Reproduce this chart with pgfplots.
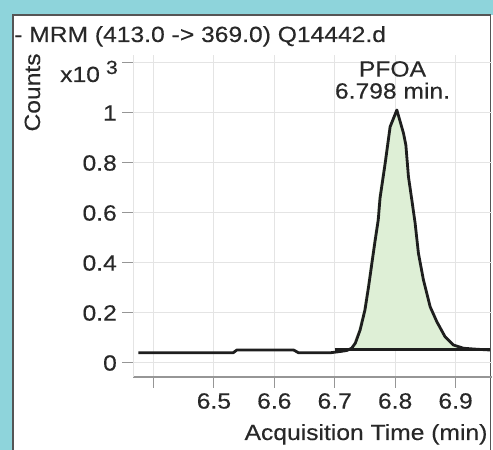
\documentclass[border=0pt]{standalone}
\usepackage{fontspec}
\setmainfont{Liberation Sans}[FakeStretch=1.12, FakeBold=0.3]
\usepackage{pgfplots}
\pgfplotsset{compat=1.18}
\definecolor{teal}{RGB}{142,212,219}
\definecolor{panelborder}{RGB}{85,85,85}
\definecolor{txt}{RGB}{40,40,40}
\definecolor{peakfill}{RGB}{222,239,214}
\definecolor{gridc}{RGB}{228,228,228}
\definecolor{tickc}{RGB}{150,150,150}
\definecolor{linec}{RGB}{30,30,30}
\begin{document}
\begin{tikzpicture}[x=1bp,y=1bp]
\useasboundingbox (0,0) rectangle (493,450);
\fill[teal] (0,0) rectangle (493,450);
\fill[white] (13,0) rectangle (493,435);
\draw[panelborder, line width=1.5bp] (13,0) -- (13,435) -- (490.5,435) -- (490.5,0);
\fontsize{22bp}{26bp}\selectfont
\begin{axis}[
  at={(133bp,73bp)}, anchor=south west,
  scale only axis, width=359bp, height=322bp,
  xmin=6.3661, xmax=6.9603, ymin=-0.056, ymax=1.232,
  axis x line*=bottom, axis y line*=left,
  x axis line style={draw=tickc, line width=1.2bp},
  y axis line style={draw=gridc, line width=1bp},
  xtick={6.4,6.5,6.6,6.7,6.8,6.9},
  xticklabels={,6.5,6.6,6.7,6.8,6.9},
  ytick={0,0.2,0.4,0.6,0.8,1,1.2},
  yticklabels={0,0.2,0.4,0.6,0.8,1,},
  tick align=outside, major tick length=11bp,
  every tick/.style={draw=tickc, line width=1bp},
  grid=major, major grid style={draw=gridc, line width=1bp},
  tick label style={font=\fontsize{22bp}{26bp}\selectfont, text=txt, inner sep=0pt},
  xticklabel style={yshift=-5bp},
  yticklabel style={xshift=-5bp},
  /pgf/number format/assume math mode=true,
  clip=false,
]
\addplot[draw=none, fill=peakfill] coordinates {
(6.718,0.055) (6.725,0.059) (6.731,0.079) (6.739,0.132) (6.747,0.212)
(6.753,0.305) (6.7585,0.399) (6.764,0.492) (6.769,0.572) (6.772,0.660)
(6.7805,0.799) (6.789,0.945) (6.8028,1.012) (6.8138,0.919) (6.8177,0.872)
(6.822,0.745) (6.8276,0.652) (6.8330,0.560) (6.8385,0.439) (6.8468,0.332)
(6.8579,0.225) (6.869,0.165) (6.8826,0.105) (6.8964,0.072) (6.913,0.059)
(6.935,0.055)} -- cycle;
\addplot[draw=linec, line width=2.8bp, line join=round] coordinates {
(6.700,0.055) (6.957,0.055)};
\addplot[draw=linec, line width=2.8bp, line join=round] coordinates {
(6.375,0.041) (6.532,0.041) (6.538,0.052) (6.632,0.052) (6.640,0.041)
(6.693,0.041) (6.709,0.046) (6.720,0.050) (6.728,0.059) (6.734,0.079)
(6.742,0.132) (6.750,0.212) (6.756,0.305) (6.7615,0.399) (6.767,0.492)
(6.772,0.572) (6.775,0.660) (6.7835,0.799) (6.7917,0.945) (6.8028,1.012)
(6.8138,0.919) (6.8177,0.872) (6.822,0.745) (6.8276,0.652) (6.8330,0.560)
(6.8385,0.439) (6.8468,0.332) (6.8579,0.225) (6.869,0.165) (6.8826,0.105)
(6.8964,0.072) (6.913,0.059) (6.935,0.055) (6.957,0.052)};
\end{axis}
\node[anchor=base west, inner sep=0pt, text=txt] at (14,408) {- MRM (413.0 -> 369.0) Q14442.d};
\node[anchor=base, rotate=90, inner sep=0pt, text=txt] at (40,357.5) {Counts};
\node[anchor=base west, inner sep=0pt, text=txt] at (60,368) {x10\hspace{6bp}\raisebox{8bp}{\fontsize{19bp}{20bp}\selectfont 3}};
\node[anchor=north, align=center, inner sep=0pt, text=txt, font=\fontsize{22bp}{22bp}\selectfont] at (392.5,389) {PFOA\\6.798 min.};
\node[anchor=base, inner sep=0pt, text=txt] at (366,10) {Acquisition Time (min)};
\end{tikzpicture}
\end{document}
